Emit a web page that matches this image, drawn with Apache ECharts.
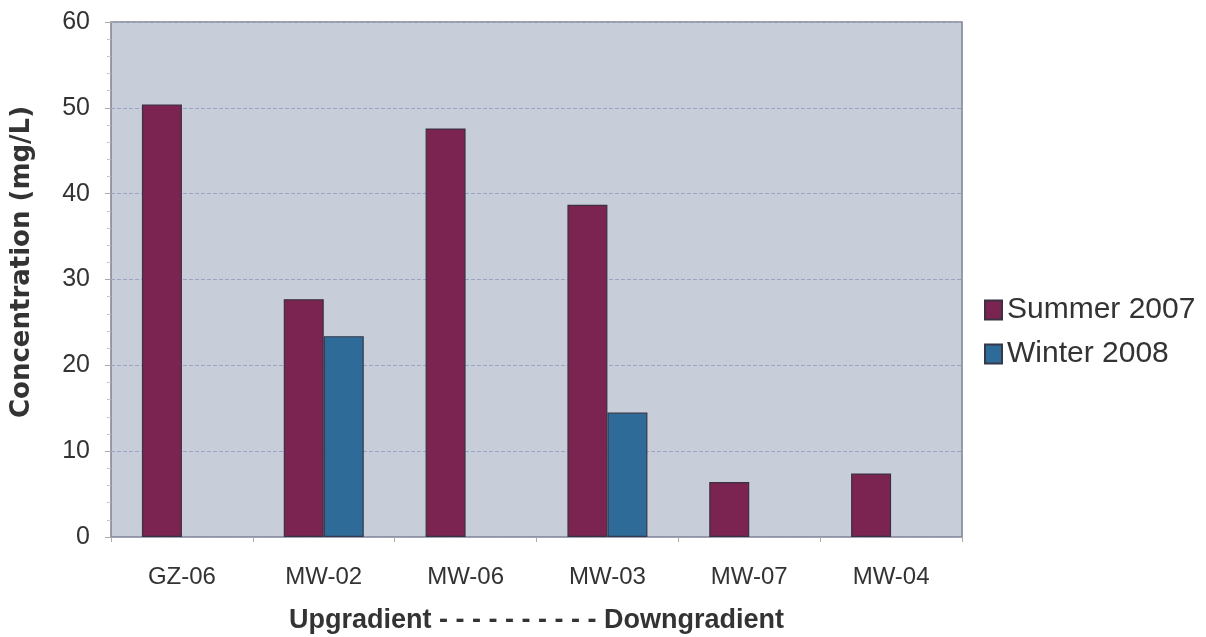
<!DOCTYPE html>
<html>
<head>
<meta charset="utf-8">
<script src="https://cdn.jsdelivr.net/npm/echarts@6/dist/echarts.min.js"></script>
<style>html,body{margin:0;padding:0;background:#fff;}#c{width:1206px;height:637px;}</style>
</head>
<body>
<div id="c"></div>
<script>
const categories = ['GZ-06', 'MW-02', 'MW-06', 'MW-03', 'MW-07', 'MW-04'];
const summer2007 = [50.4, 27.7, 47.6, 38.7, 6.4, 7.4];
const winter2008 = [null, 23.4, null, 14.5, null, null];
const yTicks = [0, 10, 20, 30, 40, 50, 60];

const chart = echarts.init(document.getElementById('c'), null, {renderer: 'canvas'});
const font = 'Liberation Sans, Arial, Helvetica, sans-serif';
chart.setOption({
  animation: false,
  grid: {
    left: 111, right: 244, top: 22, bottom: 100,
    containLabel: false, outerBoundsMode: 'none',
    show: true, backgroundColor: '#c8cdda', borderColor: '#7d8191', borderWidth: 1.5
  },
  legend: {
    orient: 'vertical', left: 979, top: 290,
    itemWidth: 17, itemHeight: 19, itemGap: 14,
    icon: 'rect',
    textStyle: {fontFamily: font, fontSize: 30, color: '#333'},
    data: ['Summer 2007', 'Winter 2008']
  },
  xAxis: {
    type: 'category', data: categories,
    name: 'Upgradient - - - - - - - - - - Downgradient',
    nameLocation: 'middle', nameGap: 70,
    nameTextStyle: {fontFamily: font, fontSize: 27, fontWeight: 'bold', color: '#333'},
    axisLine: {show: false},
    axisTick: {show: true, length: 5, lineStyle: {color: '#aaa'}},
    axisLabel: {fontFamily: font, fontSize: 24, color: '#333', margin: 28}
  },
  yAxis: {
    type: 'value', min: 0, max: 60, interval: 10,
    name: 'Concentration (mg/L)',
    nameLocation: 'middle', nameGap: 76,
    nameTextStyle: {fontFamily: 'DejaVu Sans, sans-serif', fontSize: 26, fontWeight: 'bold', color: '#333',
      padding: [0, 0, 0, 35]},
    axisLine: {show: false},
    axisTick: {show: true, length: 6, lineStyle: {color: '#aaa'}},
    minorTick: {show: true, splitNumber: 5, length: 4, lineStyle: {color: '#c4c4c4'}},
    axisLabel: {fontFamily: font, fontSize: 25, color: '#333', margin: 21,
      formatter: v => yTicks.includes(v) ? String(v) : ''},
    splitLine: {show: true, lineStyle: {color: '#9ca4c2', width: 1, type: [4, 2]}}
  },
  series: [
    {name: 'Summer 2007', type: 'bar', data: summer2007, barWidth: 40, barGap: '0%',
      itemStyle: {color: '#7b2452', borderColor: '#3b3140', borderWidth: 1.2}},
    {name: 'Winter 2008', type: 'bar', data: winter2008, barWidth: 40, barGap: '0%',
      itemStyle: {color: '#2f6b98', borderColor: '#35384a', borderWidth: 1.2}}
  ]
});
</script>
</body>
</html>
